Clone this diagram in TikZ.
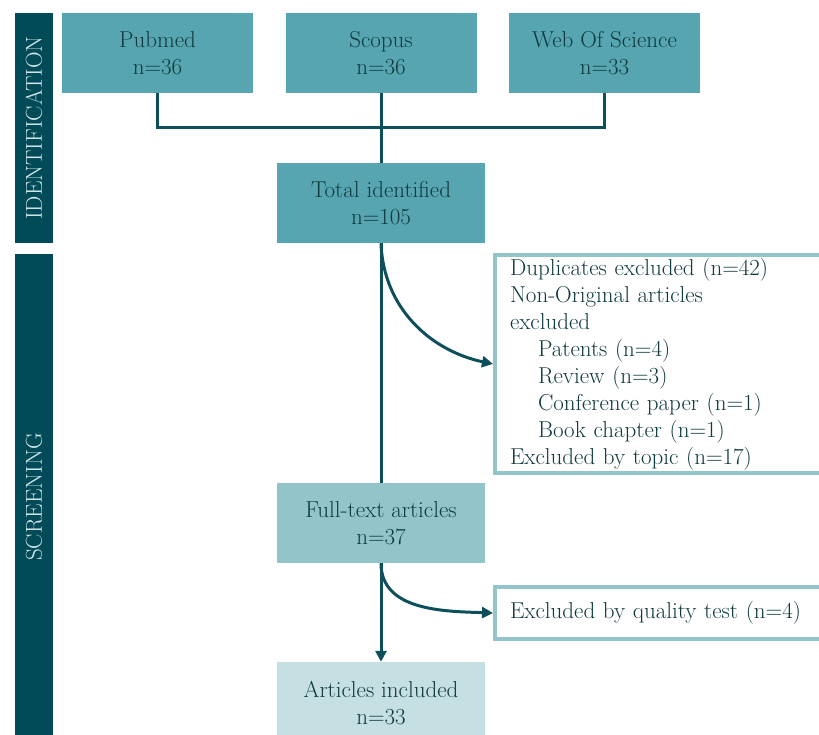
\documentclass[tikz,border=0pt]{standalone}
\usetikzlibrary{arrows.meta}

\definecolor{phasefill}{HTML}{004B57}
\definecolor{phasetext}{HTML}{D3E7EA}
\definecolor{linecol}{HTML}{0D4F5B}
\definecolor{txtcol}{HTML}{0F3A40}
\definecolor{srcfill}{HTML}{57A5B0}
\definecolor{fullfill}{HTML}{93C4C9}
\definecolor{inclfill}{HTML}{C6DFE2}

\begin{document}
\begin{tikzpicture}[x=1pt,y=1pt,
    every node/.style={font=\fontsize{23}{27}\selectfont, text=txtcol, inner sep=0pt},
    phase/.style={fill=phasefill, text=phasetext, rotate=90, minimum height=38},
    srcbox/.style={fill=srcfill, minimum width=191, minimum height=80, align=center},
    stagebox/.style={minimum width=208, minimum height=80, align=center},
    exclbox/.style={draw=fullfill, line width=4pt, fill=white, inner xsep=15pt,
                    text width=298pt, align=left, minimum width=328},
    link/.style={draw=linecol, line width=3pt},
    arrow/.style={link, -{Triangle[length=11pt,width=11pt]}}]
  \useasboundingbox (0,0) rectangle (819,-735);
  \clip (0,0) rectangle (819,-735);

  % phase bars
  \node[phase, minimum width=230] (ident) at (34,-128) {IDENTIFICATION};
  \node[phase, minimum width=486] (screen) at (34,-497) {SCREENING};

  % sources
  \node[srcbox] (pubmed) at (157.5,-53) {Pubmed\\n=36};
  \node[srcbox] (scopus) at (381,-53) {Scopus\\n=36};
  \node[srcbox] (wos) at (604.5,-53) {Web Of Science\\n=33};
  \coordinate (join) at (381,-128);

  % stages
  \node[stagebox, fill=srcfill] (total) at (381,-203) {Total identified\\n=105};
  \node[stagebox, fill=fullfill] (full) at (381,-523) {Full-text articles\\n=37};
  \node[stagebox, fill=inclfill, minimum height=83] (incl) at (381,-703.5) {Articles included\\n=33};

  % exclusions
  \node[exclbox, minimum height=218] (excl) at (659,-364) {Duplicates excluded (n=42)\\
    Non-Original articles\\
    excluded\\
    \hspace*{28pt}Patents (n=4)\\
    \hspace*{28pt}Review (n=3)\\
    \hspace*{28pt}Conference paper (n=1)\\
    \hspace*{28pt}Book chapter (n=1)\\
    Excluded by topic (n=17)};
  \node[exclbox, minimum height=52] (quality) at (659,-613) {Excluded by quality test (n=4)};

  % connectors
  \draw[link] (pubmed.south) |- (join) -| (wos.south);
  \draw[link] (scopus.south) -- (total.north);
  \draw[link] (total.south) -- (full.north);
  \draw[arrow] (total.south) to[out=-88,in=168] (excl.west);
  \draw[arrow] (full.south) to[out=-90,in=178] (quality.west);
  \draw[arrow] (full.south) -- (incl.north);
\end{tikzpicture}
\end{document}
